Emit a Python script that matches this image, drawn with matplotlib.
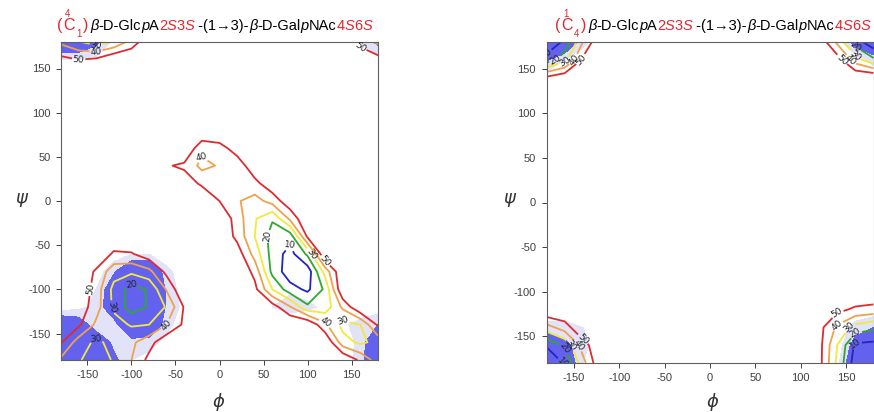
import matplotlib
matplotlib.use("Agg")
import matplotlib.pyplot as plt
import numpy as np

plt.rcParams["axes.unicode_minus"] = False

W_PX, H_PX = 874, 412
FONT = ["Liberation Sans", "DejaVu Sans"]

PHI = np.arange(-180, 181, 20)
PSI = np.arange(-180, 181, 20)
HI = 60  # above the last contour

# relative energy (kcal/mol), rows psi = 180 ... -180, columns phi = -180 ... 180
ENERGY_4C1 = [
    [38, 31, 25, 31, 44, 58, HI, HI, HI, HI, HI, HI, HI, HI, HI, HI, HI, 46, 38],
    [53, 50, 52, HI, HI, HI, HI, HI, HI, HI, HI, HI, HI, HI, HI, HI, HI, HI, 54],
    [HI] * 19,
    [HI] * 19,
    [HI] * 19,
    [HI] * 19,
    [HI, HI, HI, HI, HI, HI, HI, HI, 43, 46, 55, HI, HI, HI, HI, HI, HI, HI, HI],
    [HI, HI, HI, HI, HI, HI, 51, 48, 37, 41, 44, 57, HI, HI, HI, HI, HI, HI, HI],
    [HI, HI, HI, HI, HI, HI, HI, 56, 48, 45, 41, 47, 57, HI, HI, HI, HI, HI, HI],
    [HI, HI, HI, HI, HI, HI, HI, HI, HI, 50, 41, 36, 44, 57, HI, HI, HI, HI, HI],
    [HI, HI, HI, HI, HI, HI, HI, HI, HI, HI, 45, 31, 21, 42, HI, HI, HI, HI, HI],
    [HI, HI, HI, HI, HI, HI, HI, HI, HI, HI, 47, 30, 16, 14, 52, HI, HI, HI, HI],
    [HI, HI, HI, 48, 49, 56, HI, HI, HI, HI, 56, 36, 16, 6, 22, HI, HI, HI, HI],
    [HI, HI, 48, 34, 32, 37, 53, HI, HI, HI, HI, 47, 17, 4, 4, 34, HI, HI, HI],
    [HI, HI, 45, 27, 16, 21, 41, HI, HI, HI, HI, 53, 30, 14, 8, 22, HI, HI, HI],
    [HI, 57, 44, 28, 15, 21, 31, 51, HI, HI, HI, HI, 55, 41, 22, 24, 42, HI, HI],
    [HI, 52, 38, 34, 29, 30, 40, 52, HI, HI, HI, HI, HI, HI, HI, 42, 27, 30, 52],
    [51, 35, 28, 33, 38, 46, 58, HI, HI, HI, HI, HI, HI, HI, HI, HI, 34, 28, 33],
    [38, 31, 25, 31, 40, 53, HI, HI, HI, HI, HI, HI, HI, HI, HI, HI, HI, 48, 35],
]

ENERGY_1C4 = [
    [2, 12, 40, HI, HI, HI, HI, HI, HI, HI, HI, HI, HI, HI, HI, 58, 38, 15, 3],
    [14, 26, 52, HI, HI, HI, HI, HI, HI, HI, HI, HI, HI, HI, HI, HI, 55, 35, 22],
    [52, 58, HI, HI, HI, HI, HI, HI, HI, HI, HI, HI, HI, HI, HI, HI, HI, HI, HI],
    [HI] * 19,
    [HI] * 19,
    [HI] * 19,
    [HI] * 19,
    [HI] * 19,
    [HI] * 19,
    [HI] * 19,
    [HI] * 19,
    [HI] * 19,
    [HI] * 19,
    [HI] * 19,
    [HI] * 19,
    [HI, HI, HI, HI, HI, HI, HI, HI, HI, HI, HI, HI, HI, HI, HI, HI, 53, 48, 46],
    [36, 45, HI, HI, HI, HI, HI, HI, HI, HI, HI, HI, HI, HI, HI, 54, 38, 26, 22],
    [11, 22, 45, HI, HI, HI, HI, HI, HI, HI, HI, HI, HI, HI, HI, 54, 30, 8, 7],
    [2, 11, 36, HI, HI, HI, HI, HI, HI, HI, HI, HI, HI, HI, HI, 54, 28, 5, 2],
]

# density of MD snapshots (0 = none, 1 = dense), same layout
POP_4C1 = [
    [1, 1, 0.6, 0.1, 0, 0, 0, 0, 0, 0, 0, 0, 0, 0, 0, 0, 0, 0.2, 0.6],
    [0.2, 0.15, 0.1, 0, 0, 0, 0, 0, 0, 0, 0, 0, 0, 0, 0, 0, 0, 0, 0.1],
    [0] * 19,
    [0] * 19,
    [0] * 19,
    [0] * 19,
    [0] * 19,
    [0] * 19,
    [0] * 19,
    [0] * 19,
    [0] * 19,
    [0] * 19,
    [0, 0, 0, 0, 0.2, 0.2, 0, 0, 0, 0, 0, 0, 0, 0, 0, 0, 0, 0, 0],
    [0, 0, 0, 0.45, 1, 1, 0.3, 0, 0, 0, 0, 0, 0, 0, 0, 0, 0, 0, 0],
    [0, 0, 0.2, 0.8, 1, 1, 0.45, 0, 0, 0, 0, 0, 0, 0.15, 0.1, 0, 0, 0, 0],
    [0, 0.1, 0.3, 0.8, 1, 1, 0.45, 0.1, 0, 0, 0, 0, 0.2, 0.3, 0.25, 0.15, 0, 0, 0],
    [1, 0.8, 0.25, 0.35, 1, 1, 0.3, 0, 0, 0, 0, 0, 0, 0, 0, 0, 0.15, 0.3, 0.5],
    [1, 1, 0.9, 0.4, 0.35, 0.3, 0.1, 0, 0, 0, 0, 0, 0, 0, 0, 0, 0, 0.3, 1],
    [1, 1, 1, 0.6, 0.2, 0.1, 0, 0, 0, 0, 0, 0, 0, 0, 0, 0, 0, 0.35, 1],
]

POP_1C4 = [
    [1, 1, 0.3, 0, 0, 0, 0, 0, 0, 0, 0, 0, 0, 0, 0, 0, 0, 0.7, 1],
    [0.55, 0.2, 0, 0, 0, 0, 0, 0, 0, 0, 0, 0, 0, 0, 0, 0, 0, 0, 0.3],
    [0] * 19,
    [0] * 19,
    [0] * 19,
    [0] * 19,
    [0] * 19,
    [0] * 19,
    [0] * 19,
    [0] * 19,
    [0] * 19,
    [0] * 19,
    [0] * 19,
    [0] * 19,
    [0] * 19,
    [0] * 19,
    [0.3, 0.3, 0.2, 0, 0, 0, 0, 0, 0, 0, 0, 0, 0, 0, 0, 0, 0, 0.3, 0.5],
    [1, 0.6, 0.3, 0, 0, 0, 0, 0, 0, 0, 0, 0, 0, 0, 0, 0, 0, 0.7, 1],
    [1, 0.9, 0.2, 0, 0, 0, 0, 0, 0, 0, 0, 0, 0, 0, 0, 0, 0.1, 0.9, 1],
]

LEVELS = [10, 20, 30, 40, 50]
LEVEL_COLORS = ["#2323c8", "#2ea82e", "#f2e93a", "#f0a24a", "#de2b30"]
FILL = "#6262ee"
FRINGE = "#e2e2f8"
TICKS = [-150, -100, -50, 0, 50, 100, 150]

RED = "#e3262f"
TITLE_TAIL = [
    ("β", "k", "italic"), ("-D-Glc", "k", "normal"), ("p", "k", "italic"),
    ("A", "k", "normal"), ("2", RED, "normal"), ("S", RED, "italic"),
    ("3", RED, "normal"), ("S", RED, "italic"), (" -(1→3)-", "k", "normal"),
    ("β", "k", "italic"), ("-D-Gal", "k", "normal"), ("p", "k", "italic"),
    ("NAc", "k", "normal"), ("4", RED, "normal"), ("S", RED, "italic"),
    ("6", RED, "normal"), ("S", RED, "italic"),
]


def draw_panel(ax, energy, pop):
    z = np.array(energy, dtype=float)[::-1]
    p = np.array(pop, dtype=float)[::-1]
    ax.contourf(PHI, PSI, p, levels=[0.2, 0.5, 2.0], colors=[FRINGE, FILL], zorder=1)
    cs = ax.contour(PHI, PSI, z, levels=LEVELS, colors=LEVEL_COLORS,
                    linewidths=1.3, zorder=2)
    ax.clabel(cs, fmt="%d", fontsize=6.5, colors="#222222", inline=True,
              inline_spacing=1)
    ax.set_xlim(-180, 180)
    ax.set_ylim(-180, 180)
    ax.set_xticks(TICKS)
    ax.set_yticks(TICKS)
    ax.tick_params(direction="out", length=3.5, width=0.7, labelsize=8,
                   colors="#404040", pad=4)
    for lab in ax.get_xticklabels() + ax.get_yticklabels():
        lab.set_family(FONT)
    for sp in ax.spines.values():
        sp.set_color("#606060")
        sp.set_linewidth(0.8)


def put(fig, renderer, x, y, s, color, style="normal", size=10.5):
    t = fig.text(x / W_PX, 1 - y / H_PX, s, color=color, style=style,
                 fontsize=size, family=FONT, ha="left", va="baseline")
    return t.get_window_extent(renderer).x1


def draw_title(fig, renderer, x0, y0, top_num, bottom_num):
    put(fig, renderer, x0, y0, "(", RED, size=11.5)
    put(fig, renderer, x0 + 6, y0, "C", RED, size=11.5)
    put(fig, renderer, x0 + 8, y0 - 13, top_num, RED, size=7)
    put(fig, renderer, x0 + 19, y0 + 7, bottom_num, RED, size=7)
    put(fig, renderer, x0 + 26, y0, ")", RED, size=11.5)
    x = x0 + 33
    for s, color, style in TITLE_TAIL:
        x = put(fig, renderer, x, y0, s, color, style)


fig = plt.figure(figsize=(W_PX / 100, H_PX / 100), dpi=100)
renderer = fig.canvas.get_renderer()

ax1 = fig.add_axes([61 / W_PX, (H_PX - 360) / H_PX, 317 / W_PX, 318 / H_PX])
ax2 = fig.add_axes([546.5 / W_PX, (H_PX - 363) / H_PX, 327 / W_PX, 321 / H_PX])

draw_panel(ax1, ENERGY_4C1, POP_4C1)
draw_panel(ax2, ENERGY_1C4, POP_1C4)

draw_title(fig, renderer, 57, 30, "4", "1")
draw_title(fig, renderer, 555, 30, "1", "4")

for xc in (219, 713):
    fig.text(xc / W_PX, 1 - 402 / H_PX, r"$\phi$", fontsize=13, ha="center",
             va="center", color="#333333")
for xc in (22, 510):
    fig.text(xc / W_PX, 1 - 200 / H_PX, r"$\psi$", fontsize=13, ha="center",
             va="center", color="#333333")

fig.savefig("out.png", dpi=100)
plt.close(fig)
